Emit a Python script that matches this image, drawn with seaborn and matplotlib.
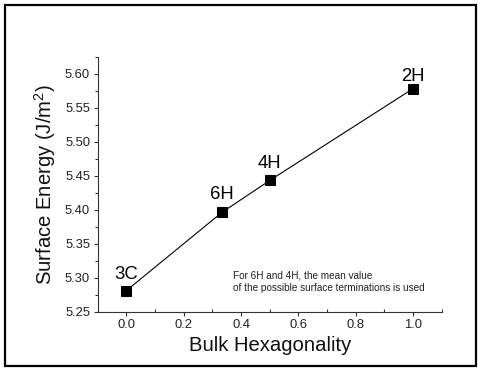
import matplotlib
matplotlib.use("Agg")
import matplotlib.pyplot as plt
import seaborn as sns
import pandas as pd
from matplotlib.ticker import MultipleLocator, FormatStrFormatter
from matplotlib.patches import Rectangle

polytypes = ["3C", "6H", "4H", "2H"]
hexagonality = [0.0, 1/3, 0.5, 1.0]
surface_energy = [5.281, 5.396, 5.443, 5.578]
label_offsets_px = [12, 13, 12, 8]

sns.set_style("ticks")
plt.rcParams["font.family"] = ["Liberation Sans", "DejaVu Sans"]
plt.rcParams["mathtext.fontset"] = "custom"
plt.rcParams["mathtext.rm"] = "Liberation Sans"

df = pd.DataFrame({"x": hexagonality, "y": surface_energy, "label": polytypes})

fig = plt.figure(figsize=(4.78, 3.69), dpi=100)
ax = fig.add_axes([97.7/478, 1-311.7/369, (441.7-97.7)/478, (311.7-56.7)/369])

sns.lineplot(data=df, x="x", y="y", ax=ax, color="black", linewidth=0.8,
             marker="s", markersize=6.8, markeredgecolor="black",
             markerfacecolor="black", zorder=3)

for xi, yi, lab, off in zip(hexagonality, surface_energy, polytypes, label_offsets_px):
    ax.annotate(lab, (xi, yi), xytext=(0, off*0.72), textcoords="offset points",
                ha="center", va="baseline", fontsize=13.3, color="black")

ax.text(233/478, 1-290.7/369, "For 6H and 4H, the mean value\nof the possible surface terminations is used",
        transform=fig.transFigure, fontsize=7.2, color="#222222", ha="left",
        va="baseline", linespacing=1.25)

ax.set_xlim(-0.1, 1.1)
ax.set_ylim(5.25, 5.625)
ax.xaxis.set_major_locator(MultipleLocator(0.2))
ax.xaxis.set_minor_locator(MultipleLocator(0.1))
ax.yaxis.set_major_locator(MultipleLocator(0.05))
ax.yaxis.set_minor_locator(MultipleLocator(0.025))
ax.xaxis.set_major_formatter(FormatStrFormatter("%.1f"))
ax.yaxis.set_major_formatter(FormatStrFormatter("%.2f"))

for s in ["top", "right"]:
    ax.spines[s].set_visible(False)
for s in ["left", "bottom"]:
    ax.spines[s].set_color("#333333")
    ax.spines[s].set_linewidth(0.8)

ax.tick_params(axis="both", which="major", labelsize=9.4, length=3, width=0.8,
               direction="out", colors="#333333", labelcolor="#222222", pad=2.5)
ax.tick_params(axis="y", which="minor", length=2, width=0.8, direction="out", colors="#333333")
ax.tick_params(axis="x", which="minor", length=2, width=0.8, direction="in", colors="#333333")

ax.set_xlabel("Bulk Hexagonality", fontsize=14.6, color="#111111", labelpad=3)
ax.set_ylabel("Surface Energy (J/m$^2$)", fontsize=14.6, color="#111111", labelpad=5)

fig.patches.append(Rectangle((5/478, 1-366/369), 471/478, 361/369, transform=fig.transFigure,
                             fill=False, edgecolor="black", linewidth=1.6, zorder=10))

fig.savefig("out.png", dpi=100)
